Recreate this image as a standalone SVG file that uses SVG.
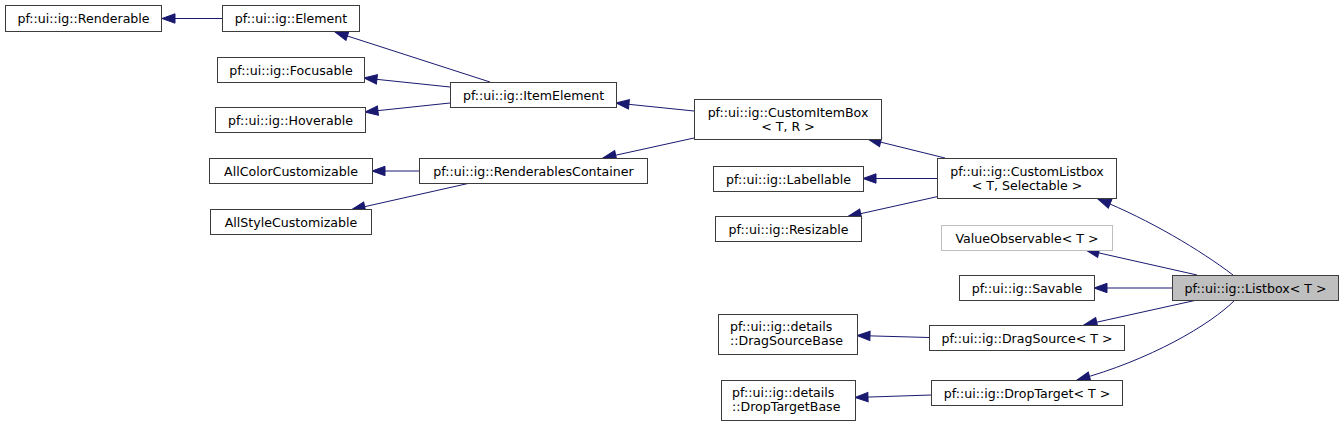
<svg xmlns="http://www.w3.org/2000/svg" width="1344" height="426" viewBox="0 0 1344 426">
<style>
.n rect{fill:#ffffff;stroke:#3c3c3c;stroke-width:1}
.n text{font-family:"DejaVu Sans","Liberation Sans",sans-serif;font-size:12.6px;fill:#000;text-anchor:middle}
.n text.l{text-anchor:start}
#n_valueobservable rect{stroke:#bfbfbf}
#n_listbox rect{fill:#bfbfbf}
.e path{fill:none;stroke:#191970;stroke-width:1;marker-end:url(#arr)}
</style>
<defs>
<marker id="arr" markerUnits="userSpaceOnUse" markerWidth="16" markerHeight="12" refX="13" refY="4.7" orient="auto" overflow="visible">
<path d="M0,0 L13,4.7 L0,9.4 z" fill="#191970" stroke="#191970" stroke-width="1"/>
</marker>
</defs>
<rect width="1344" height="426" fill="#ffffff"/>
<g id="edges" class="e">
<path d="M222,18.5 L162,18.5"/>
<path d="M490,82 L335,32"/>
<path d="M450,87 L364,78"/>
<path d="M450,103 L365,112"/>
<path d="M694,111 L616,103"/>
<path d="M694,138 L603,158"/>
<path d="M419,171 L372,171"/>
<path d="M468,183.5 L352,209.5"/>
<path d="M945,158 L868,139"/>
<path d="M937,178.5 L863,178.5"/>
<path d="M937,196.7 L848,216.5"/>
<path d="M1233,275 C1200,250 1150,220 1098,199"/>
<path d="M1197,275 L1086,250"/>
<path d="M1172,288 L1094,288"/>
<path d="M1197,300 L1084,325"/>
<path d="M1235,300 C1210,325 1150,360 1077,380"/>
<path d="M929,337.5 L857,335.5"/>
<path d="M931,395 L855,397.5"/>
</g>
<g id="n_renderable" class="n"><rect x="5.5" y="5.5" width="156" height="26"/><text x="83.5" y="23">pf::ui::ig::Renderable</text></g>
<g id="n_element" class="n"><rect x="222.5" y="5.5" width="137" height="26"/><text x="291" y="23">pf::ui::ig::Element</text></g>
<g id="n_focusable" class="n"><rect x="217.5" y="57.5" width="147" height="25"/><text x="291" y="74.5">pf::ui::ig::Focusable</text></g>
<g id="n_hoverable" class="n"><rect x="215.5" y="107.5" width="150" height="25"/><text x="290.5" y="124.5">pf::ui::ig::Hoverable</text></g>
<g id="n_itemelement" class="n"><rect x="450.5" y="82.5" width="166" height="25"/><text x="533.5" y="99.5">pf::ui::ig::ItemElement</text></g>
<g id="n_customitembox" class="n"><rect x="694.5" y="99.5" width="187" height="40"/><text x="788" y="116.5">pf::ui::ig::CustomItemBox</text><text x="788" y="130.5">&lt; T, R &gt;</text></g>
<g id="n_renderablescontainer" class="n"><rect x="419.5" y="158.5" width="228" height="25"/><text x="533.5" y="175.5">pf::ui::ig::RenderablesContainer</text></g>
<g id="n_allcolor" class="n"><rect x="209.5" y="158.5" width="163" height="25"/><text x="291" y="175.5">AllColorCustomizable</text></g>
<g id="n_allstyle" class="n"><rect x="210.5" y="209.5" width="161" height="25"/><text x="291" y="226.5">AllStyleCustomizable</text></g>
<g id="n_labellable" class="n"><rect x="713.5" y="166.5" width="150" height="25"/><text x="788.5" y="183.5">pf::ui::ig::Labellable</text></g>
<g id="n_resizable" class="n"><rect x="715.5" y="216.5" width="146" height="25"/><text x="788.5" y="233.5">pf::ui::ig::Resizable</text></g>
<g id="n_customlistbox" class="n"><rect x="937.5" y="158.5" width="179" height="40"/><text x="1027" y="175.5">pf::ui::ig::CustomListbox</text><text x="1027" y="189.5">&lt; T, Selectable &gt;</text></g>
<g id="n_valueobservable" class="n"><rect x="941.5" y="225.5" width="171" height="25"/><text x="1027" y="242.5">ValueObservable&lt; T &gt;</text></g>
<g id="n_savable" class="n"><rect x="959.5" y="275.5" width="135" height="25"/><text x="1027" y="292.5">pf::ui::ig::Savable</text></g>
<g id="n_listbox" class="n"><rect x="1172.5" y="275.5" width="166" height="25"/><text x="1255.5" y="292.5">pf::ui::ig::Listbox&lt; T &gt;</text></g>
<g id="n_dragsourcebase" class="n"><rect x="718.5" y="314.5" width="139" height="40"/><text class="l" x="730" y="331">pf::ui::ig::details</text><text class="l" x="730" y="345">::DragSourceBase</text></g>
<g id="n_dragsource" class="n"><rect x="929.5" y="325.5" width="195" height="25"/><text x="1027" y="342.5">pf::ui::ig::DragSource&lt; T &gt;</text></g>
<g id="n_droptargetbase" class="n"><rect x="721.5" y="380.5" width="134" height="40"/><text class="l" x="732" y="397">pf::ui::ig::details</text><text class="l" x="732" y="411">::DropTargetBase</text></g>
<g id="n_droptarget" class="n"><rect x="931.5" y="380.5" width="191" height="25"/><text x="1027" y="397.5">pf::ui::ig::DropTarget&lt; T &gt;</text></g>
</svg>
